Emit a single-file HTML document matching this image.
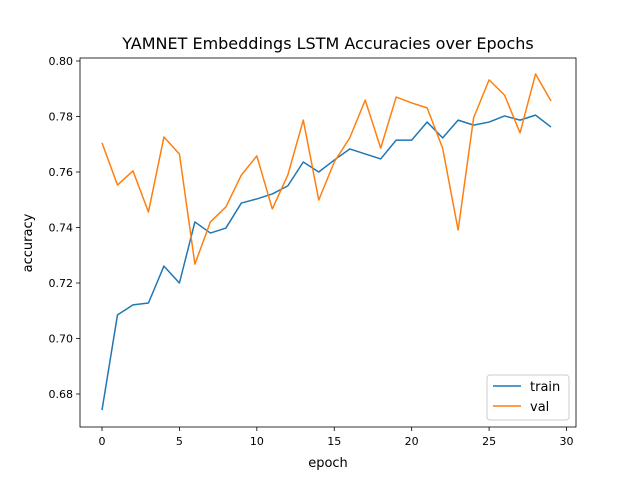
<!DOCTYPE html>
<html><head><meta charset="utf-8"><style>
html,body{margin:0;padding:0;background:#fff;}
svg{display:block;font-family:"DejaVu Sans","Liberation Sans",sans-serif;}
</style></head><body>
<svg id="chart" width="640" height="480" viewBox="0 0 640 480">
<rect width="640" height="480" fill="#fff"/>
<text x="328" y="49" text-anchor="middle" font-size="16" fill="#000">YAMNET Embeddings LSTM Accuracies over Epochs</text>
<g id="plot"></g>
<text x="328" y="467" text-anchor="middle" font-size="13">epoch</text>
<text transform="translate(32,243) rotate(-90)" text-anchor="middle" font-size="13">accuracy</text>
<g>
<rect x="487" y="375" width="82" height="45" rx="3" fill="#fff" stroke="#ccc" stroke-width="1"/>
<line x1="493" y1="386" x2="521" y2="386" stroke="#1f77b4" stroke-width="1.5"/>
<text x="530" y="391" font-size="13">train</text>
<line x1="493" y1="406" x2="521" y2="406" stroke="#ff7f0e" stroke-width="1.5"/>
<text x="530" y="411" font-size="13">val</text>
</g>
</svg>
<script>
const epochs = [...Array(30).keys()];
const trainAcc = [0.6742,0.7085,0.7121,0.7128,0.7261,0.7200,0.7420,0.7380,0.7398,0.7488,0.7503,0.7521,0.7550,0.7636,0.7600,0.7643,0.7683,0.7665,0.7647,0.7715,0.7715,0.7780,0.7723,0.7787,0.7769,0.7780,0.7802,0.7787,0.7805,0.7762];
const valAcc = [0.7705,0.7553,0.7604,0.7456,0.7726,0.7665,0.7268,0.7420,0.7474,0.7589,0.7658,0.7467,0.7589,0.7787,0.7499,0.7636,0.7723,0.7859,0.7686,0.7870,0.7849,0.7831,0.7686,0.7391,0.7795,0.7932,0.7877,0.7741,0.7953,0.7856];
const xTicks = [0,5,10,15,20,25,30];
const yTicks = [0.68,0.70,0.72,0.74,0.76,0.78,0.80];

const L=80,R=576,T=58,B=427;
function xs(v){return 102 + v*(566.5-102)/30;}
function ys(v){return 394 - (v-0.68)/0.12*333;}
const NS="http://www.w3.org/2000/svg";
const g=document.getElementById('plot');
function mk(tag,attrs){const e=document.createElementNS(NS,tag);for(const k in attrs)e.setAttribute(k,attrs[k]);g.appendChild(e);return e;}

xTicks.forEach(t=>{
  const x=xs(t);
  const tk=mk('line',{x1:x,y1:B,x2:x,y2:B+4,stroke:'#000','stroke-width':0.8});
  
  
  const tx=mk('text',{x:x,y:B+18,'text-anchor':'middle','font-size':11});
  tx.textContent=t;
  
  
});
yTicks.forEach(t=>{
  const y=ys(t);
  const tk=mk('line',{x1:L-4,y1:y,x2:L,y2:y,stroke:'#000','stroke-width':0.8});
  
  
  const tx=mk('text',{x:L-7,y:y+4,'text-anchor':'end','font-size':11});
  tx.textContent=t.toFixed(2);
  
  
});

function line(vals,color,name){
  const p=mk('polyline',{points:vals.map((v,i)=>xs(epochs[i])+','+ys(v)).join(' '),fill:'none',stroke:color,'stroke-width':1.5,'stroke-linejoin':'round'});
  
  
}
line(trainAcc,'#1f77b4','train-line');
line(valAcc,'#ff7f0e','val-line');

const frame=mk('rect',{x:L,y:T,width:R-L,height:B-T,fill:'none',stroke:'#000','stroke-width':0.8});


</script>
</body></html>
